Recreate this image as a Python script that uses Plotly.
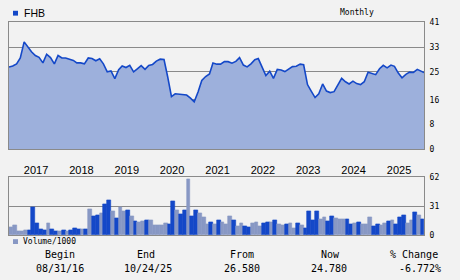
import pandas as pd
import plotly.graph_objects as go

symbol = "FHB"
period = "Monthly"
begin_label = "08/31/16"
end_label = "10/24/25"

# month-end closes, Aug 2016 .. Sep 2025, then 10/24/25
price = [26.58, 26.9, 27.6, 29.5, 34.7, 32.8, 31.5, 30.3, 29.7, 27.9,
         30.7, 29.6, 27.6, 30.3, 29.5, 29.5, 29.2, 28.7, 27.9, 27.9,
         27.6, 29.5, 29.3, 28.6, 29.2, 27.6, 25.0, 25.3, 22.8, 25.7,
         26.9, 26.4, 27.1, 25.0, 26.0, 27.0, 25.8, 27.1, 27.4, 28.5,
         29.1, 29.0, 23.5, 17.0, 17.9, 17.7, 17.7, 17.5, 16.5, 15.3,
         18.5, 22.2, 23.5, 24.3, 27.9, 27.5, 27.5, 28.3, 28.3, 27.8,
         28.4, 29.6, 27.2, 26.6, 27.6, 28.9, 29.3, 26.5, 23.8, 25.2,
         22.9, 25.8, 25.6, 25.1, 26.0, 26.7, 26.8, 27.5, 27.3, 20.9,
         18.8, 16.7, 17.9, 21.1, 18.8, 18.3, 18.6, 20.8, 22.9, 21.8,
         21.1, 22.0, 21.2, 20.9, 21.8, 24.9, 24.4, 24.1, 26.0, 27.1,
         26.3, 27.2, 26.8, 24.6, 23.1, 24.2, 24.9, 24.8, 25.8, 25.1,
         24.78]

# monthly volume (thousands), one bar per month
volume_k = [8.1, 10.5, 3.9, 3.9, 4.9, 4.9, 30.1, 12.3, 6.0, 4.9,
            12.3, 6.0, 3.9, 3.9, 4.9, 3.9, 4.9, 7.0, 6.0, 6.0,
            6.0, 28.0, 19.6, 20.7, 22.8, 33.3, 37.5, 25.9, 17.5, 30.1,
            24.9, 27.0, 19.6, 14.4, 13.3, 14.4, 15.4, 15.4, 10.2, 10.2,
            10.2, 12.3, 11.2, 36.4, 27.0, 21.7, 27.0, 59.5, 19.6, 27.0,
            22.8, 18.6, 11.2, 13.3, 11.2, 15.4, 13.3, 11.2, 19.6, 15.4,
            9.1, 12.3, 9.1, 8.1, 12.3, 13.3, 9.1, 12.3, 13.3, 13.3,
            15.4, 11.2, 10.2, 11.2, 12.3, 7.0, 12.3, 10.2, 7.0, 25.9,
            15.4, 25.9, 16.5, 18.6, 14.4, 19.6, 17.5, 16.5, 16.5, 16.5,
            11.2, 12.3, 13.3, 11.2, 11.2, 18.6, 9.1, 11.2, 10.5, 12.3,
            14.4, 15.4, 11.2, 18.6, 20.7, 12.3, 15.4, 23.8, 20.7, 16.5]
volume_up = [0, 0, 0, 0, 0, 1, 1, 1, 1, 1,
             0, 1, 1, 0, 1, 0, 1, 1, 1, 0,
             1, 0, 1, 1, 0, 1, 1, 0, 1, 0,
             0, 1, 0, 1, 0, 0, 1, 0, 0, 0,
             0, 0, 1, 1, 0, 1, 1, 0, 1, 1,
             0, 0, 0, 1, 0, 1, 0, 0, 0, 1,
             0, 0, 1, 1, 0, 0, 0, 1, 1, 0,
             1, 0, 0, 1, 0, 0, 1, 0, 1, 1,
             1, 1, 0, 0, 1, 1, 0, 0, 0, 1,
             1, 0, 1, 0, 0, 0, 1, 1, 0, 0,
             1, 0, 1, 1, 1, 0, 0, 1, 0, 1]

price_ticks = [0, 8, 16, 25, 33, 41]
volume_ticks = [0, 31, 62]
years = [2017, 2018, 2019, 2020, 2021, 2022, 2023, 2024, 2025]

dates = list(pd.date_range("2016-08-31", periods=110, freq="ME")) + [pd.Timestamp("2025-10-24")]

W, H = 460, 280
BG = "#F2F2F2"
LINE = "#1448C8"
FILL = "#9DB0DC"
DARK = "#1448C8"
LIGHT = "#8898C4"
GRID = "#8A8A8A"

def px_x(p):
    return p / W

def px_y(p):
    return 1 - p / H

bar_x, bar_w = [], []
for i in range(len(volume_k)):
    a, b = dates[i], dates[i + 1]
    bar_x.append(a + (b - a) / 2)
    bar_w.append((b - a).total_seconds() * 1000)
bar_colors = [DARK if u else LIGHT for u in volume_up]

fig = go.Figure()
fig.add_trace(go.Scatter(x=dates, y=price, mode="lines", fill="tozeroy",
                         fillcolor=FILL, line=dict(color=LINE, width=1.6),
                         xaxis="x", yaxis="y", showlegend=False, hoverinfo="skip"))
fig.add_trace(go.Bar(x=bar_x, y=volume_k, width=bar_w,
                     marker=dict(color=bar_colors, line=dict(width=0.6, color=bar_colors)),
                     xaxis="x2", yaxis="y2", showlegend=False, hoverinfo="skip"))

xr = [dates[0], dates[-1]]
tickvals = [pd.Timestamp(f"{y}-01-01") + pd.Timedelta(days=95) for y in years]
xdom = [px_x(9), px_x(424)]

fig.update_layout(
    width=W, height=H, autosize=False,
    margin=dict(l=0, r=0, t=0, b=0),
    paper_bgcolor=BG, plot_bgcolor=BG,
    bargap=0,
    xaxis=dict(domain=xdom, range=xr, type="date", anchor="y",
               tickvals=tickvals, ticktext=[str(y) for y in years],
               showgrid=False, zeroline=False, ticks="",
               showline=True, linecolor=GRID, linewidth=1, mirror=True,
               tickfont=dict(family="Liberation Sans", size=11, color="#000"),
               ticklabelstandoff=11),
    yaxis=dict(domain=[px_y(150), px_y(19)], range=[0, 41], side="right",
               tickvals=price_ticks, showgrid=True, gridcolor=GRID, gridwidth=1,
               zeroline=False, ticks="", showline=True, linecolor=GRID, linewidth=1, mirror=True,
               tickfont=dict(family="DejaVu Sans Mono", size=8, color="#000"),
               ticklabelstandoff=3),
    xaxis2=dict(domain=xdom, range=xr, type="date", anchor="y2",
                showticklabels=False, showgrid=False, zeroline=False, ticks="",
                showline=True, linecolor=GRID, linewidth=1, mirror=True),
    yaxis2=dict(domain=[px_y(238.5), px_y(179)], range=[0, 62], side="right",
                tickvals=volume_ticks, showgrid=True, gridcolor=GRID, gridwidth=1,
                zeroline=False, ticks="", showline=True, linecolor=GRID, linewidth=1, mirror=True,
                tickfont=dict(family="DejaVu Sans Mono", size=8, color="#000"),
                ticklabelstandoff=3),
)

shapes = [
    dict(type="rect", xref="paper", yref="paper", x0=px_x(13), x1=px_x(18), y0=px_y(12), y1=px_y(7),
         fillcolor=DARK, line=dict(width=0)),
    dict(type="rect", xref="paper", yref="paper", x0=px_x(13), x1=px_x(18), y0=px_y(248), y1=px_y(243),
         fillcolor=LIGHT, line=dict(width=0)),
]
fig.update_layout(shapes=shapes)

change = (price[-1] / price[0] - 1) * 100
mono = "DejaVu Sans Mono"
ann = [
    dict(text=symbol, x=px_x(22), y=px_y(9.5), xanchor="left", yanchor="middle",
         font=dict(family="Liberation Sans", size=10.5, color="#000")),
    dict(text=period, x=px_x(357), y=px_y(9), xanchor="center", yanchor="middle",
         font=dict(family=mono, size=8, color="#000")),
    dict(text="Volume/1000", x=px_x(20.5), y=px_y(245.5), xanchor="left", yanchor="middle",
         font=dict(family=mono, size=8, color="#000")),
]
headers = ["Begin", "End", "From", "Now", "% Change"]
values = [begin_label, end_label, f"{price[0]:.3f}", f"{price[-1]:.3f}", f"{change:.3f}%"]
hx = [60.5, 146, 241.5, 330, 414]
vx = [59.7, 147.5, 242, 329, 420]
for h, x in zip(headers, hx):
    ann.append(dict(text=h, x=px_x(x), y=px_y(259), xanchor="center", yanchor="middle",
                    font=dict(family=mono, size=10, color="#000")))
for v, x in zip(values, vx):
    ann.append(dict(text=v, x=px_x(x), y=px_y(273), xanchor="center", yanchor="middle",
                    font=dict(family=mono, size=10, color="#000")))
for a in ann:
    a.update(xref="paper", yref="paper", showarrow=False)
fig.update_layout(annotations=ann)

fig.write_html("out.html")
